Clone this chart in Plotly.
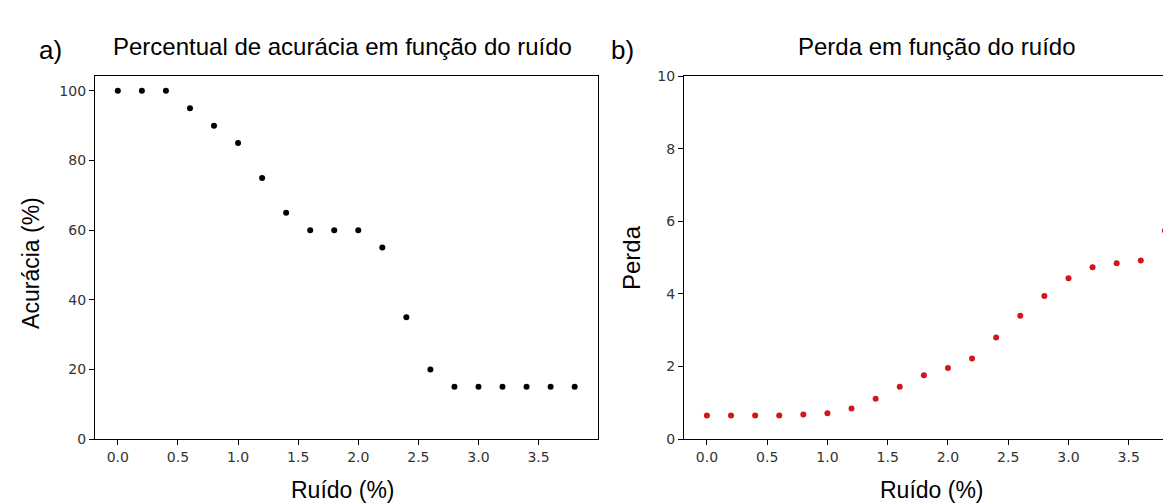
import plotly.graph_objects as go

noise = [0.0, 0.2, 0.4, 0.6, 0.8, 1.0, 1.2, 1.4, 1.6, 1.8, 2.0, 2.2, 2.4, 2.6, 2.8, 3.0, 3.2, 3.4, 3.6, 3.8]
accuracy = [100, 100, 100, 95, 90, 85, 75, 65, 60, 60, 60, 55, 35, 20, 15, 15, 15, 15, 15, 15]
loss = [0.65, 0.65, 0.65, 0.65, 0.68, 0.71, 0.84, 1.11, 1.44, 1.76, 1.96, 2.22, 2.80, 3.40, 3.94, 4.43, 4.73, 4.84, 4.92, 5.74]

acc_ticks = [0, 20, 40, 60, 80, 100]
loss_ticks = [0, 2, 4, 6, 8, 10]
x_ticks = [0.0, 0.5, 1.0, 1.5, 2.0, 2.5, 3.0, 3.5]
x_tick_text = ["0.0", "0.5", "1.0", "1.5", "2.0", "2.5", "3.0", "3.5"]

W, H = 1171, 503
fig = go.Figure()
fig.add_trace(go.Scatter(x=noise, y=accuracy, mode="markers", xaxis="x", yaxis="y",
                         marker=dict(color="black", size=6), showlegend=False))
fig.add_trace(go.Scatter(x=noise, y=loss, mode="markers", xaxis="x2", yaxis="y2",
                         marker=dict(color="#d4161c", size=6), showlegend=False))

tick_font = dict(family="DejaVu Sans", size=14, color="#333333")
common_x = dict(tickmode="array", tickvals=x_ticks, ticktext=x_tick_text, ticks="outside",
                ticklen=5, tickcolor="black", showline=True, linecolor="black", linewidth=1.2,
                showgrid=False, zeroline=False, tickfont=tick_font)
common_y = dict(ticks="outside", ticklen=5, tickcolor="black", showline=True, linecolor="black",
                linewidth=1.2, showgrid=False, zeroline=False, tickfont=tick_font)

ydom = [1 - 437 / H, 1 - 62 / H]
fig.update_layout(
    width=W, height=H, margin=dict(l=0, r=0, t=0, b=0),
    paper_bgcolor="white", plot_bgcolor="white",
    xaxis=dict(domain=[87 / W, 589.5 / W], range=[-0.19, 3.99], anchor="y", mirror=True, **common_x),
    yaxis=dict(domain=ydom, range=[0, 104.25], anchor="x", mirror=True,
               tickmode="array", tickvals=acc_ticks, **common_y),
    xaxis2=dict(domain=[676 / W, 1.0], range=[-0.19, 3.917], anchor="y2", mirror=True, **common_x),
    yaxis2=dict(domain=ydom, range=[0, 10], anchor="x2", mirror=False,
                tickmode="array", tickvals=loss_ticks, **common_y),
)

def ann(text, x, y, angle=0, size=23):
    fig.add_annotation(text=text, x=x / W, y=1 - y / H, xref="paper", yref="paper",
                       showarrow=False, textangle=angle, xanchor="center", yanchor="middle",
                       font=dict(family="Liberation Sans, Arial", size=size, color="black"))

ann("a)", 42, 35, size=26)
ann("Percentual de acurácia em função do ruído", 334, 31, size=24)
ann("b)", 615, 35, size=26)
ann("Perda em função do ruído", 929, 31, size=24)
ann("Acurácia (%)", 23, 255, angle=-90)
ann("Perda", 623, 250, angle=-90, size=24)
ann("Ruído (%)", 335, 490)
ann("Ruído (%)", 924, 490)

fig.write_html("out.html")
